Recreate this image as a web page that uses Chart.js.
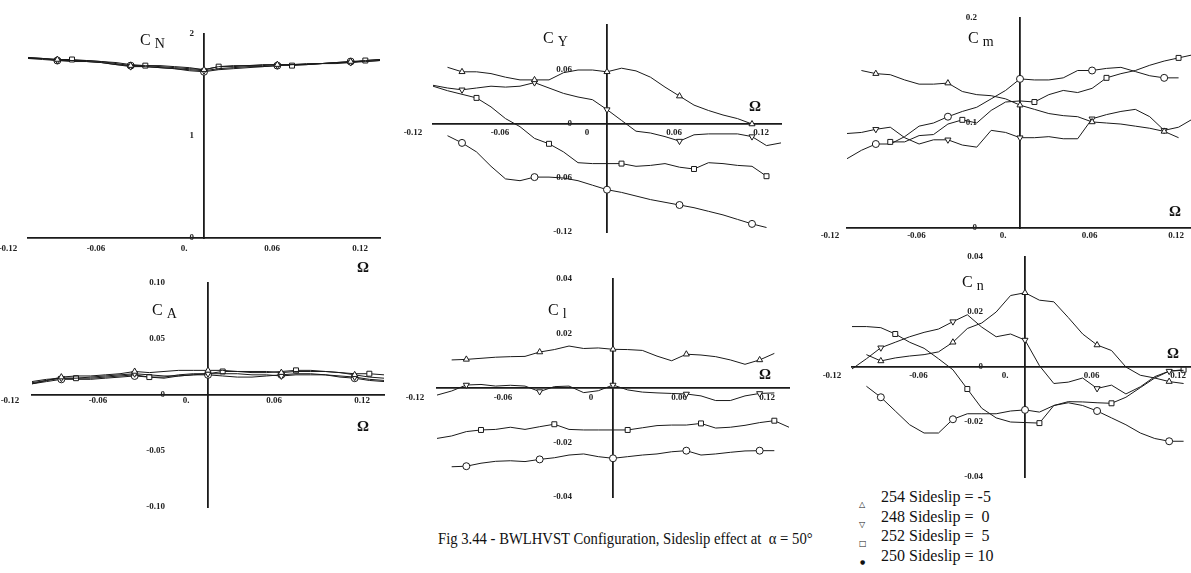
<!DOCTYPE html>
<html>
<head>
<meta charset="utf-8">
<script src="https://cdn.jsdelivr.net/npm/chart.js@4.4.0/dist/chart.umd.min.js"></script>
<style>
    html, body { margin: 0; padding: 0; width: 1191px; height: 573px; overflow: hidden; background: #fff; }
    canvas { position: absolute; }
    .title { position: absolute; font-family: 'Liberation Serif', serif; font-size: 16px; line-height: 16px; color: #111; white-space: nowrap; }
    .title span { font-size: 14px; position: relative; top: 3px; margin-left: 4px; }
    .omega { position: absolute; font-family: 'Liberation Serif', serif; font-size: 15px; font-weight: bold; color: #111; transform: translate(-50%, -50%); }
    .legend { position: absolute; left: 859px; top: 487px; font-family: 'Liberation Serif', serif; font-size: 16px; color: #111; }
    .legend div { height: 19.5px; line-height: 19.5px; white-space: pre; }
    .legend i { font-style: normal; font-family: 'DejaVu Sans', sans-serif; font-size: 8px; display: inline-block; width: 22px; position: relative; top: 5px; }
    .legend i.dot { font-size: 6px; top: 3px; padding-left: 1px; width: 21px; }
    .caption { position: absolute; left: 438px; top: 530px; font-family: 'Liberation Serif', serif; font-size: 16px; color: #111; white-space: pre; transform: scaleX(0.917); transform-origin: left top; }
</style>
</head>
<body>
<div class="caption">Fig 3.44 - BWLHVST Configuration, Sideslip effect at  α = 50°</div>
<div class="legend">
    <div><i>△</i>254 Sideslip = -5</div>
    <div><i>▽</i>248 Sideslip =  0</div>
    <div><i>□</i>252 Sideslip =  5</div>
    <div><i class="dot">●</i>250 Sideslip = 10</div>
</div>
<script>
// Omega values (x) shared by every panel
const omega = [-0.12, -0.11, -0.10, -0.09, -0.08, -0.07, -0.06, -0.05, -0.04, -0.03, -0.02, -0.01, 0,
    0.01, 0.02, 0.03, 0.04, 0.05, 0.06, 0.07, 0.08, 0.09, 0.10, 0.11, 0.12];

// Tick values and labels
const xTicks = [-0.12, -0.06, 0, 0.06, 0.12];
const xLabelsDot = ['-0.12', '-0.06', '0.', '0.06', '0.12'];
const xLabelsPlain = ['-0.12', '-0.06', '0', '0.06', '0.12'];

const normalYTicks = [0, 1, 2];
const normalYLabels = ['0', '1', '2'];
const sideYTicks = [-0.12, -0.06, 0, 0.06];
const sideYLabels = ['-0.12', '-0.06', '0', '0.06'];
const pitchYTicks = [0, 0.1, 0.2];
const pitchYLabels = ['0', '0.1', '0.2'];
const axialYTicks = [-0.10, -0.05, 0, 0.05, 0.10];
const axialYLabels = ['-0.10', '-0.05', '0', '0.05', '0.10'];
const rollYTicks = [-0.04, -0.02, 0.02, 0.04];
const rollYLabels = ['-0.04', '-0.02', '0.02', '0.04'];
const yawYTicks = [-0.04, -0.02, 0, 0.02, 0.04];
const yawYLabels = ['-0.04', '-0.02', '0', '0.02', '0.04'];

// Series names
const runNames = ['254 Sideslip = -5', '248 Sideslip = 0', '252 Sideslip = 5', '250 Sideslip = 10'];

// C_N
const normalTri = [1.77, 1.76, 1.75, 1.74, 1.74, 1.73, 1.71, 1.69, 1.69, 1.68, 1.67, 1.66, 1.65, 1.68, 1.68, 1.69, 1.69, 1.70, 1.70, 1.71, 1.71, 1.72, 1.73, 1.74, 1.75];
const normalNab = [1.76, 1.76, 1.74, 1.74, 1.73, 1.72, 1.70, 1.68, 1.68, 1.67, 1.66, 1.65, 1.64, 1.66, 1.67, 1.68, 1.68, 1.69, 1.70, 1.70, 1.71, 1.72, 1.72, 1.73, 1.74];
const normalSq = [1.77, 1.76, 1.75, 1.75, 1.74, 1.73, 1.72, 1.70, 1.69, 1.69, 1.68, 1.67, 1.65, 1.68, 1.69, 1.69, 1.70, 1.70, 1.69, 1.70, 1.71, 1.71, 1.72, 1.74, 1.75];
const normalDia = [1.76, 1.75, 1.74, 1.73, 1.73, 1.72, 1.70, 1.69, 1.68, 1.67, 1.66, 1.64, 1.63, 1.65, 1.66, 1.67, 1.68, 1.69, 1.70, 1.70, 1.71, 1.72, 1.73, 1.73, 1.74];

// C_Y
const sideTri = [null, 0.063, 0.058, 0.058, 0.056, 0.052, 0.049, 0.049, 0.049, 0.057, 0.060, 0.060, 0.058, 0.062, 0.059, 0.052, 0.041, 0.031, 0.021, 0.015, 0.010, 0.006, 0.000, null, null];
const sideNab = [0.043, 0.040, 0.038, 0.040, 0.042, 0.041, 0.042, 0.046, 0.040, 0.034, 0.030, 0.027, 0.016, 0.004, -0.008, -0.010, -0.014, -0.019, -0.012, -0.011, -0.011, -0.011, -0.014, -0.024, -0.021];
const sideSq = [0.042, 0.037, 0.033, 0.029, 0.019, 0.006, -0.003, -0.016, -0.022, -0.031, -0.043, -0.044, -0.044, -0.044, -0.047, -0.046, -0.044, -0.048, -0.050, -0.043, -0.044, -0.046, -0.047, -0.058, null];
const sideDia = [null, -0.013, -0.021, -0.031, -0.047, -0.061, -0.063, -0.059, -0.059, -0.060, -0.063, -0.068, -0.073, -0.076, -0.080, -0.084, -0.087, -0.090, -0.093, -0.097, -0.101, -0.106, -0.111, -0.115, null];

// C_m
const pitchTri = [null, 0.150, 0.147, 0.146, 0.141, 0.137, 0.137, 0.138, 0.130, 0.127, 0.126, 0.123, 0.117, 0.113, 0.109, 0.107, 0.106, 0.101, 0.100, 0.099, 0.097, 0.095, 0.092, 0.086, null];
const pitchNab = [0.090, 0.091, 0.094, 0.096, 0.086, 0.080, 0.084, 0.084, 0.079, 0.077, 0.093, 0.091, 0.086, 0.086, 0.087, 0.085, 0.085, 0.104, 0.108, 0.111, 0.113, 0.106, 0.093, 0.096, 0.104];
const pitchSq = [null, null, null, 0.082, 0.082, 0.088, 0.089, 0.099, 0.103, 0.100, 0.112, 0.120, 0.121, 0.120, 0.127, 0.131, 0.129, 0.133, 0.143, 0.147, 0.150, 0.155, 0.159, 0.162, 0.165];
const pitchDia = [0.066, 0.074, 0.080, 0.080, 0.087, 0.097, 0.100, 0.106, 0.111, 0.115, 0.123, 0.131, 0.142, 0.141, 0.141, 0.143, 0.150, 0.150, 0.152, 0.153, 0.149, 0.145, 0.143, 0.143, null];

// C_A
const axialTri = [0.010, 0.013, 0.016, 0.017, 0.017, 0.018, 0.019, 0.021, 0.020, 0.021, 0.022, 0.022, 0.022, 0.022, 0.021, 0.021, 0.021, 0.020, 0.021, 0.021, 0.021, 0.020, 0.018, 0.016, 0.015];
const axialNab = [0.011, 0.013, 0.015, 0.015, 0.016, 0.017, 0.018, 0.019, 0.018, 0.017, 0.017, 0.018, 0.019, 0.019, 0.019, 0.018, 0.018, 0.017, 0.018, 0.018, 0.018, 0.017, 0.016, 0.014, 0.013];
const axialSq = [0.012, 0.014, 0.015, 0.015, 0.015, 0.016, 0.017, 0.018, 0.016, 0.016, 0.018, 0.019, 0.019, 0.021, 0.021, 0.020, 0.020, 0.021, 0.022, 0.022, 0.021, 0.020, 0.019, 0.019, 0.018];
const axialDia = [0.010, 0.012, 0.014, 0.014, 0.014, 0.015, 0.016, 0.017, 0.016, 0.015, 0.017, 0.018, 0.018, 0.017, 0.016, 0.016, 0.017, 0.018, 0.019, 0.019, 0.018, 0.016, 0.015, 0.013, 0.012];

// C_l
const rollTri = [null, 0.0103, 0.0105, 0.0109, 0.0113, 0.0115, 0.0116, 0.0132, 0.0141, 0.0154, 0.0145, 0.0147, 0.0142, 0.0141, 0.0138, 0.0117, 0.0100, 0.0124, 0.0121, 0.0115, 0.0103, 0.0087, 0.0103, 0.0127, null];
const rollNab = [-0.0026, -0.0011, 0.0011, 0.0013, 0.0007, 0.0010, 0.0007, -0.0013, 0.0005, 0.0007, -0.0017, -0.0010, 0.0011, -0.0007, -0.0015, -0.0018, -0.0020, -0.0022, -0.0029, -0.0046, -0.0046, -0.0029, -0.0020, -0.0018, null];
const rollSq = [-0.0185, -0.0176, -0.0160, -0.0154, -0.0152, -0.0144, -0.0152, -0.0142, -0.0133, -0.0152, -0.0154, -0.0154, -0.0154, -0.0154, -0.0146, -0.0138, -0.0136, -0.0136, -0.0130, -0.0147, -0.0144, -0.0137, -0.0127, -0.0120, -0.0144];
const rollDia = [null, -0.0289, -0.0287, -0.0276, -0.0269, -0.0267, -0.0270, -0.0262, -0.0256, -0.0246, -0.0242, -0.0252, -0.0258, -0.0252, -0.0246, -0.0242, -0.0234, -0.0230, -0.0246, -0.0242, -0.0236, -0.0231, -0.0230, -0.0230, null];

// C_n
const yawTri = [null, 0.0045, 0.0022, 0.0033, 0.0040, 0.0045, 0.0055, 0.0090, 0.0140, 0.0160, 0.0200, 0.0260, 0.0270, 0.0243, 0.0237, 0.0180, 0.0120, 0.0080, 0.0060, 0.0000, -0.0030, -0.0040, -0.0053, -0.0060, null];
const yawNab = [-0.0007, 0.0030, 0.0070, 0.0090, 0.0110, 0.0126, 0.0138, 0.0165, 0.0190, 0.0145, 0.0110, 0.0120, 0.0098, 0.0005, -0.0060, -0.0055, -0.0040, -0.0078, -0.0066, -0.0098, -0.0072, -0.0035, -0.0015, -0.0012, null];
const yawSq = [0.0147, 0.0147, 0.0143, 0.0120, 0.0090, 0.0068, 0.0030, -0.0010, -0.0080, -0.0150, -0.0185, -0.0200, -0.0202, -0.0204, -0.0140, -0.0126, -0.0127, -0.0130, -0.0132, -0.0110, -0.0075, -0.0040, -0.0015, -0.0010, null];
const yawDia = [null, -0.0070, -0.0110, -0.0160, -0.0210, -0.0240, -0.0240, -0.0190, -0.0170, -0.0170, -0.0170, -0.0160, -0.0156, -0.0164, -0.0140, -0.0130, -0.0140, -0.0160, -0.0185, -0.0210, -0.0240, -0.0260, -0.0270, -0.0270, null];

// Marker look per run (markers every 5th point)
const markers = [
    { style: 'triangle', rotation: 0, at: 2 },
    { style: 'triangle', rotation: 180, at: 2 },
    { style: 'rect', rotation: 0, at: 3 },
    { style: 'circle', rotation: 0, at: 2 }
];

const PAD = 40;
const tickFont = { family: 'Liberation Serif', size: 9, weight: 'bold' };
const ink = '#1a1a1a';

function drawPanel(p) {
    const w = p.right - p.left + 2 * PAD;
    const h = p.bottom - p.top + 2 * PAD;
    const canvas = document.createElement('canvas');
    canvas.width = w;
    canvas.height = h;
    canvas.style.left = (p.left - PAD) + 'px';
    canvas.style.top = (p.top - PAD) + 'px';
    canvas.style.width = w + 'px';
    canvas.style.height = h + 'px';
    document.body.appendChild(canvas);

    const datasets = p.series.map((values, k) => ({
        label: runNames[k],
        data: omega.map((x, i) => ({ x: x, y: values[i] })),
        borderColor: ink,
        borderWidth: 1,
        tension: 0,
        pointStyle: markers[k].style,
        rotation: markers[k].rotation,
        pointRadius: ctx => (ctx.dataIndex % 5 === markers[k].at ? 3.5 : 0),
        pointBackgroundColor: '#fff',
        pointBorderColor: ink,
        pointBorderWidth: 1
    }));

    // y labels sit on their own axis, a little left of the drawn y axis
    const labelX = -p.yPad * 0.24 / (p.right - p.left);

    new Chart(canvas, {
        type: 'line',
        data: { datasets: datasets },
        options: {
            responsive: false,
            animation: false,
            layout: { padding: PAD },
            plugins: { legend: { display: false }, tooltip: { enabled: false } },
            scales: {
                x: {
                    type: 'linear',
                    min: -0.12,
                    max: 0.12,
                    position: { y: 0 },
                    afterFit: s => { s.height = 0; },
                    afterBuildTicks: s => { s.ticks = xTicks.map(v => ({ value: v })); },
                    grid: { display: false, drawTicks: false },
                    border: { display: true, color: ink, width: 1.8 },
                    ticks: {
                        autoSkip: false,
                        maxRotation: 0,
                        minRotation: 0,
                        padding: p.xPad,
                        labelOffset: p.xShift,
                        font: tickFont,
                        color: '#222',
                        callback: (v, i) => p.xLabels[i]
                    }
                },
                y: {
                    type: 'linear',
                    min: p.yMin,
                    max: p.yMax,
                    position: { x: 0 },
                    afterFit: s => { s.width = 0; },
                    grid: { display: false, drawTicks: false },
                    border: { display: true, color: ink, width: 1.8 },
                    ticks: { display: false }
                },
                yLabels: {
                    type: 'linear',
                    axis: 'y',
                    min: p.yMin,
                    max: p.yMax,
                    position: { x: labelX },
                    afterFit: s => { s.width = 0; },
                    afterBuildTicks: s => { s.ticks = p.yTicks.map(v => ({ value: v })); },
                    grid: { display: false, drawTicks: false },
                    border: { display: false },
                    ticks: {
                        autoSkip: false,
                        padding: 0,
                        font: tickFont,
                        color: '#222',
                        callback: (v, i) => p.yLabels[i]
                    }
                }
            }
        }
    });

    // Coefficient name
    const t = document.createElement('div');
    t.className = 'title';
    t.style.left = p.titleAt[0] + 'px';
    t.style.top = p.titleAt[1] + 'px';
    t.innerHTML = 'C<span>' + p.sub + '</span>';
    document.body.appendChild(t);

    // Omega axis name
    const o = document.createElement('div');
    o.className = 'omega';
    o.style.left = p.omegaAt[0] + 'px';
    o.style.top = p.omegaAt[1] + 'px';
    o.textContent = 'Ω';
    document.body.appendChild(o);
}

document.addEventListener('DOMContentLoaded', function() {
    drawPanel({ left: 28, right: 380, top: 34, bottom: 238, yMin: 0, yMax: 2, yTicks: normalYTicks, yLabels: normalYLabels,
        xLabels: xLabelsDot, xPad: 5, xShift: -20, yPad: 10, sub: 'N', titleAt: [140, 32], omegaAt: [363, 267],
        series: [normalTri, normalNab, normalSq, normalDia] });
    drawPanel({ left: 433, right: 781, top: 25, bottom: 232, yMin: -0.12, yMax: 0.11, yTicks: sideYTicks, yLabels: sideYLabels,
        xLabels: xLabelsPlain, xPad: 3, xShift: -20, yPad: 35, sub: 'Y', titleAt: [543, 30], omegaAt: [755, 106],
        series: [sideTri, sideNab, sideSq, sideDia] });
    drawPanel({ left: 847, right: 1193, top: 18, bottom: 228, yMin: 0, yMax: 0.2, yTicks: pitchYTicks, yLabels: pitchYLabels,
        xLabels: xLabelsDot, xPad: 2, xShift: -17, yPad: 43, sub: 'm', titleAt: [968, 30], omegaAt: [1175, 211],
        series: [pitchTri, pitchNab, pitchSq, pitchDia] });
    drawPanel({ left: 32, right: 384, top: 283, bottom: 507, yMin: -0.10, yMax: 0.10, yTicks: axialYTicks, yLabels: axialYLabels,
        xLabels: xLabelsDot, xPad: 0, xShift: -22, yPad: 43, sub: 'A', titleAt: [152, 302], omegaAt: [363, 426],
        series: [axialTri, axialNab, axialSq, axialDia] });
    drawPanel({ left: 437, right: 789, top: 279, bottom: 497, yMin: -0.04, yMax: 0.04, yTicks: rollYTicks, yLabels: rollYLabels,
        xLabels: xLabelsPlain, xPad: 4, xShift: -22, yPad: 41, sub: 'l', titleAt: [548, 302], omegaAt: [765, 374],
        series: [rollTri, rollNab, rollSq, rollDia] });
    drawPanel({ left: 852, right: 1198, top: 257, bottom: 477, yMin: -0.04, yMax: 0.04, yTicks: yawYTicks, yLabels: yawYLabels,
        xLabels: xLabelsDot, xPad: 3, xShift: -20, yPad: 42, sub: 'n', titleAt: [962, 274], omegaAt: [1173, 353],
        series: [yawTri, yawNab, yawSq, yawDia] });
});
</script>
</body>
</html>
